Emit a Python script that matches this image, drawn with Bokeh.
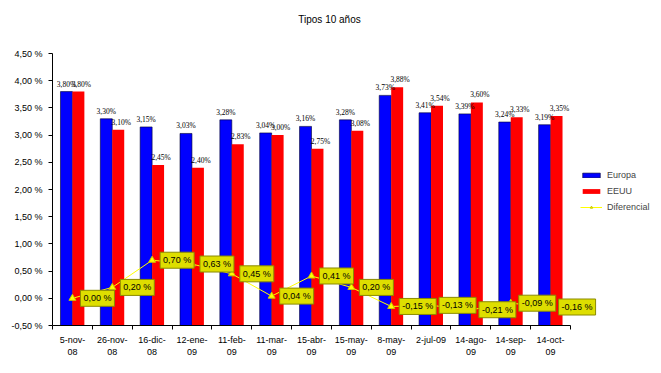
from bokeh.plotting import figure
from bokeh.models import (ColumnDataSource, Range1d, FixedTicker, LabelSet, Legend,
                          LegendItem, Label)
from bokeh.core.properties import value
from bokeh.embed import file_html
from bokeh.resources import INLINE

title_text = "Tipos 10 años"
categories = ["5-nov-\n08", "26-nov-\n08", "16-dic-\n08", "12-ene-\n09", "11-feb-\n09",
              "11-mar-\n09", "15-abr-\n09", "15-may-\n09", "8-may-\n09", "2-jul-09",
              "14-ago-\n09", "14-sep-\n09", "14-oct-\n09"]
europa = [3.80, 3.30, 3.15, 3.03, 3.28, 3.04, 3.16, 3.28, 3.73, 3.41, 3.39, 3.24, 3.19]
eeuu = [3.80, 3.10, 2.45, 2.40, 2.83, 3.00, 2.75, 3.08, 3.88, 3.54, 3.60, 3.33, 3.35]
diferencial = [0.00, 0.20, 0.70, 0.63, 0.45, 0.04, 0.41, 0.20, -0.15, -0.13, -0.21, -0.09, -0.16]
y_ticks = [-0.5, 0.0, 0.5, 1.0, 1.5, 2.0, 2.5, 3.0, 3.5, 4.0, 4.5]

FONT = "Liberation Sans"
n = len(categories)
idx = list(range(n))

# layout (pixels): axes area 52..570 x 53..325; frame extended to hold title/legend
W, H = 661, 373
AX_L, AX_R, AX_T, AX_B = 52, 570, 53, 325
FR_R, FR_T = 656, 4
x0, x1 = -0.5, n - 0.5
y0, y1 = y_ticks[0], y_ticks[-1]
ppx = (AX_R - AX_L) / (x1 - x0)
ppy = (AX_B - AX_T) / (y1 - y0)
x_end = x0 + (FR_R - AX_L) / ppx
y_end = y0 + (AX_B - FR_T) / ppy

src = ColumnDataSource(dict(
    x=idx,
    xb=[i - 0.15 for i in idx],
    xr=[i + 0.15 for i in idx],
    europa=europa,
    eeuu=eeuu,
    dif=diferencial,
    eu_txt=[f"{v:.2f}%".replace(".", ",") for v in europa],
    us_txt=[f"{v:.2f}%".replace(".", ",") for v in eeuu],
    dif_txt=[f"{v:.2f} %".replace(".", ",") for v in diferencial],
))

p = figure(width=W, height=H, output_backend="svg", toolbar_location=None,
           x_range=Range1d(x0, x_end), y_range=Range1d(y0, y_end),
           min_border_left=AX_L, min_border_top=FR_T, min_border_bottom=H - AX_B,
           min_border_right=W - FR_R)

p.outline_line_color = None
p.xgrid.visible = False
p.ygrid.visible = False

rb = p.vbar(x="xb", top="europa", bottom=y0, width=0.3, source=src,
            fill_color="#0000ff", line_color="#000033", line_width=0.6)
rr = p.vbar(x="xr", top="eeuu", bottom=y0, width=0.3, source=src,
            fill_color="#ff0000", line_color=None)
rl = p.line(x="x", y="dif", source=src, line_color="#ffff00", line_width=1)
rs = p.scatter(x="x", y="dif", source=src, marker="triangle", size=7,
               fill_color="#ffff00", line_color="#c8c800")
p.text(x="x", y="dif", text="dif_txt", source=src, text_align="left",
       text_baseline="middle", x_offset=8, text_font=value(FONT),
       text_font_size="9px", text_color="#000000",
       background_fill_color="#dede00", border_line_color="#8a8a00",
       border_line_width=1, padding=3)

# axes
p.yaxis.ticker = FixedTicker(ticks=y_ticks, minor_ticks=[])
p.yaxis.bounds = (y0, y1)
p.yaxis.major_label_overrides = {t: f"{t:.2f} %".replace(".", ",") for t in y_ticks}
p.yaxis.major_tick_in = 0
p.yaxis.major_tick_out = 4
p.yaxis.minor_tick_out = 0
p.yaxis.major_label_standoff = 6
p.xaxis.ticker = FixedTicker(ticks=idx, minor_ticks=[i - 0.5 for i in range(n + 1)])
p.xaxis.bounds = (x0, x1)
p.xaxis.major_label_overrides = {i: c for i, c in zip(idx, categories)}
p.xaxis.major_tick_in = 0
p.xaxis.major_tick_out = 0
p.xaxis.minor_tick_in = 0
p.xaxis.minor_tick_out = 4
p.xaxis.major_label_standoff = 5
for ax in (p.xaxis, p.yaxis):
    ax.major_label_text_font = FONT
    ax.major_label_text_font_size = "9px"
    ax.major_label_text_color = "#000000"
    ax.axis_line_color = "#000000"
    ax.major_tick_line_color = "#000000"
    ax.minor_tick_line_color = "#000000"

# value labels
eu_lbl = LabelSet(x="xb", y="europa", text="eu_txt", source=src, text_align="center",
                  text_baseline="bottom", y_offset=3, text_font=FONT,
                  text_font_size="7.5px", text_color="#000000")
us_lbl = LabelSet(x="xr", y="eeuu", text="us_txt", source=src, text_align="center",
                  text_baseline="bottom", y_offset=3, x_offset=3, text_font=FONT,
                  text_font_size="7.5px", text_color="#000000")
p.add_layout(eu_lbl)
p.add_layout(us_lbl)

# title
p.add_layout(Label(x=x0 + (329 - AX_L) / ppx, y=y0 + (AX_B - 19) / ppy, text=title_text,
                   text_align="center", text_baseline="middle", text_font=FONT,
                   text_font_size="10px", text_color="#000000"))

legend = Legend(items=[LegendItem(label="Europa", renderers=[rb]),
                       LegendItem(label="EEUU", renderers=[rr]),
                       LegendItem(label="Diferencial", renderers=[rl, rs])],
                location=(528, 112), margin=0, padding=2, spacing=4,
                glyph_width=22, glyph_height=6, label_height=12, label_standoff=5,
                label_text_font=FONT, label_text_font_size="9px",
                border_line_color=None, background_fill_alpha=0)
p.add_layout(legend)

open("out.html", "w").write(file_html(p, INLINE))
